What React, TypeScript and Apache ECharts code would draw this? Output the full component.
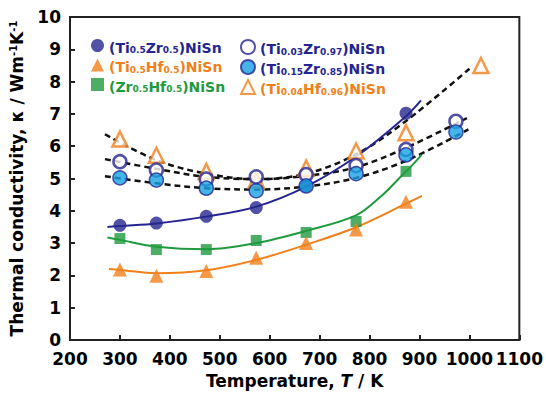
import React, { useEffect, useRef } from "react";
import * as echarts from "echarts";

const FONT = "DejaVu Sans";
const NAVY = "#25258f";
const ORANGE = "#f0801a";
const GREEN = "#1f9a3e";
const LBLUE = "#16a3e3";

// x ticks / y ticks
const xTicks = [200, 1100, 100];
const yTicks = [0, 10, 1];

// measured points [T (K), kappa]
const ptsTiZr55 = [[300, 3.55], [373, 3.62], [473, 3.83], [573, 4.1], [673, 4.77], [873, 7.02]];
const ptsTiHf55 = [[300, 2.18], [373, 1.99], [473, 2.14], [573, 2.55], [673, 3.0], [773, 3.42], [873, 4.28]];
const ptsZrHf55 = [[300, 3.14], [373, 2.8], [473, 2.8], [573, 3.08], [673, 3.33], [773, 3.67], [873, 5.22]];
const ptsTi03Zr97 = [[300, 5.52], [373, 5.26], [473, 4.98], [573, 5.05], [673, 5.12], [773, 5.4], [873, 5.9], [973, 6.77]];
const ptsTi15Zr85 = [[300, 5.02], [373, 4.95], [473, 4.7], [573, 4.62], [673, 4.77], [773, 5.15], [873, 5.73], [973, 6.44]];
const ptsTi04Hf96 = [[300, 6.22], [373, 5.72], [473, 5.22], [573, 4.95], [673, 5.32], [773, 5.85], [873, 6.42], [1023, 8.5]];

// fitted curves
const fitTiZr55 = [[275, 3.5], [300, 3.53], [373, 3.61], [473, 3.82], [573, 4.13], [673, 4.75], [773, 5.68], [873, 6.93], [903, 7.42]];
const fitTiHf55 = [[278, 2.2], [300, 2.17], [373, 2.07], [473, 2.16], [573, 2.48], [673, 2.95], [773, 3.49], [873, 4.22], [905, 4.46]];
const fitZrHf55 = [[275, 3.17], [300, 3.1], [373, 2.89], [473, 2.81], [573, 3.0], [673, 3.38], [773, 3.86], [823, 4.45], [859, 5.0], [889, 5.47], [904, 5.73]];
const fitTi03Zr97 = [[270, 5.6], [373, 5.3], [473, 5.05], [573, 4.98], [673, 5.08], [773, 5.35], [873, 5.95], [995, 6.87]];
const fitTi15Zr85 = [[270, 5.07], [373, 4.85], [473, 4.7], [573, 4.66], [673, 4.75], [773, 5.02], [873, 5.55], [998, 6.52]];
const fitTi04Hf96 = [[270, 6.37], [373, 5.57], [473, 5.15], [573, 4.98], [673, 5.15], [773, 5.75], [873, 6.78], [1001, 8.41]];

// legend labels: [text, isSubscript]
const labTiZr55: [string, boolean][] = [["(Ti", false], ["0.5", true], ["Zr", false], ["0.5", true], [")NiSn", false]];
const labTiHf55: [string, boolean][] = [["(Ti", false], ["0.5", true], ["Hf", false], ["0.5", true], [")NiSn", false]];
const labZrHf55: [string, boolean][] = [["(Zr", false], ["0.5", true], ["Hf", false], ["0.5", true], [")NiSn", false]];
const labTi03Zr97: [string, boolean][] = [["(Ti", false], ["0.03", true], ["Zr", false], ["0.97", true], [")NiSn", false]];
const labTi15Zr85: [string, boolean][] = [["(Ti", false], ["0.15", true], ["Zr", false], ["0.85", true], [")NiSn", false]];
const labTi04Hf96: [string, boolean][] = [["(Ti", false], ["0.04", true], ["Hf", false], ["0.96", true], [")NiSn", false]];

const N1 = "(Ti0.5Zr0.5)NiSn";
const N2 = "(Ti0.5Hf0.5)NiSn";
const N3 = "(Zr0.5Hf0.5)NiSn";
const N4 = "(Ti0.03Zr0.97)NiSn";
const N5 = "(Ti0.15Zr0.85)NiSn";
const N6 = "(Ti0.04Hf0.96)NiSn";

const labels: Record<string, { parts: [string, boolean][]; key: string }> = {
  [N1]: { parts: labTiZr55, key: "b" },
  [N2]: { parts: labTiHf55, key: "o" },
  [N3]: { parts: labZrHf55, key: "g" },
  [N4]: { parts: labTi03Zr97, key: "b" },
  [N5]: { parts: labTi15Zr85, key: "b" },
  [N6]: { parts: labTi04Hf96, key: "o" },
};

function mkRich() {
  const cols: Record<string, string> = { b: NAVY, o: ORANGE, g: GREEN };
  const r: any = {};
  Object.keys(cols).forEach((k) => {
    r["n" + k] = { color: cols[k], fontFamily: FONT, fontWeight: "bold", fontSize: 14, lineHeight: 18, verticalAlign: "bottom" };
    r["s" + k] = { color: cols[k], fontFamily: FONT, fontWeight: "bold", fontSize: 9, lineHeight: 9, verticalAlign: "bottom" };
  });
  return r;
}

function fmt(name: string) {
  const l = labels[name];
  return l.parts.map(([t, sub]) => `{${sub ? "s" : "n"}${l.key}|${t}}`).join("");
}

function fitLine(data: number[][], color: string, dashed: boolean) {
  return {
    type: "line",
    data,
    smooth: 0.35,
    symbol: "none",
    silent: true,
    z: 1,
    lineStyle: dashed ? { color: "#111", width: 2.5, type: [6, 4] } : { color, width: 2 },
  };
}

export default function App() {
  const ref = useRef<HTMLDivElement>(null);
  useEffect(() => {
    const chart = echarts.init(ref.current!, null, { renderer: "svg" });
    const axisText = { fontFamily: FONT, fontWeight: "bold", fontSize: 17, color: "#000", lineHeight: 14 };
    const rich = mkRich();
    chart.setOption({
      animation: false,
      grid: { left: 67, right: 24, top: 17, bottom: 63, show: true, borderColor: "#222", borderWidth: 2 },
      xAxis: {
        type: "value",
        min: xTicks[0],
        max: xTicks[1],
        interval: xTicks[2],
        axisLine: { show: true, lineStyle: { color: "#222", width: 2 } },
        axisTick: { show: true, inside: true, length: 5, lineStyle: { color: "#222", width: 2 } },
        splitLine: { show: false },
        axisLabel: { ...axisText, margin: 12, showMinLabel: true, showMaxLabel: true, hideOverlap: false, formatter: (v: number) => String(v) },
        name: "{a|Temperature, }{i|T}{a| / K}",
        nameLocation: "middle",
        nameGap: 32,
        nameTextStyle: {
          rich: {
            a: { fontFamily: FONT, fontWeight: "bold", fontSize: 17, color: "#000" },
            i: { fontFamily: FONT, fontWeight: "bold", fontStyle: "italic", fontSize: 17, color: "#000" },
          },
        },
      },
      yAxis: {
        type: "value",
        min: yTicks[0],
        max: yTicks[1],
        interval: yTicks[2],
        axisLine: { show: true, lineStyle: { color: "#222", width: 2 } },
        axisTick: { show: true, inside: true, length: 5, lineStyle: { color: "#222", width: 2 } },
        splitLine: { show: false },
        axisLabel: { ...axisText, margin: 9, showMinLabel: true, showMaxLabel: true, hideOverlap: false, formatter: (v: number) => String(v) },
        name: "{a|Thermal conductivity, κ / Wm}{p|-1}{a|K}{p|-1}",
        nameLocation: "middle",
        nameGap: 42,
        nameTextStyle: {
          rich: {
            a: { fontFamily: FONT, fontWeight: "bold", fontSize: 17, color: "#000", lineHeight: 20, verticalAlign: "top" },
            p: { fontFamily: FONT, fontWeight: "bold", fontSize: 10, color: "#000", lineHeight: 10, verticalAlign: "top" },
          },
        },
      },
      legend: [
        {
          orient: "vertical",
          left: 86,
          top: 34,
          itemWidth: 13,
          itemHeight: 13,
          itemGap: 4,
          data: [N1, N2, N3],
          formatter: fmt,
          textStyle: { rich },
        },
        {
          orient: "vertical",
          left: 235,
          top: 34,
          itemWidth: 14,
          itemHeight: 14,
          itemGap: 3,
          data: [N4, N5, N6],
          formatter: fmt,
          textStyle: { rich },
        },
      ],
      series: [
        fitLine(fitTi03Zr97, "#111", true),
        fitLine(fitTi15Zr85, "#111", true),
        fitLine(fitTi04Hf96, "#111", true),
        fitLine(fitTiZr55, NAVY, false),
        fitLine(fitTiHf55, ORANGE, false),
        fitLine(fitZrHf55, GREEN, false),
        {
          name: N6, type: "scatter", data: ptsTi04Hf96, symbol: "triangle", symbolSize: 15, z: 3,
          itemStyle: { color: "#fff", borderColor: ORANGE, borderWidth: 2.5 },
        },
        {
          name: N4, type: "scatter", data: ptsTi03Zr97, symbol: "circle", symbolSize: 13, z: 4,
          itemStyle: { color: "#fff", borderColor: NAVY, borderWidth: 2.5 },
        },
        {
          name: N1, type: "scatter", data: ptsTiZr55, symbol: "circle", symbolSize: 13, z: 5,
          itemStyle: { color: NAVY },
        },
        {
          name: N5, type: "scatter", data: ptsTi15Zr85, symbol: "circle", symbolSize: 14, z: 6,
          itemStyle: { color: LBLUE, borderColor: NAVY, borderWidth: 1.5 },
        },
        {
          name: N3, type: "scatter", data: ptsZrHf55, symbol: "rect", symbolSize: 11, z: 7,
          itemStyle: { color: GREEN },
        },
        {
          name: N2, type: "scatter", data: ptsTiHf55, symbol: "triangle", symbolSize: 14, z: 8,
          itemStyle: { color: ORANGE },
        },
      ],
    });
    return () => chart.dispose();
  }, []);
  return <div ref={ref} style={{ width: 546, height: 403, position: "absolute", left: 0, top: 0 }} />;
}
